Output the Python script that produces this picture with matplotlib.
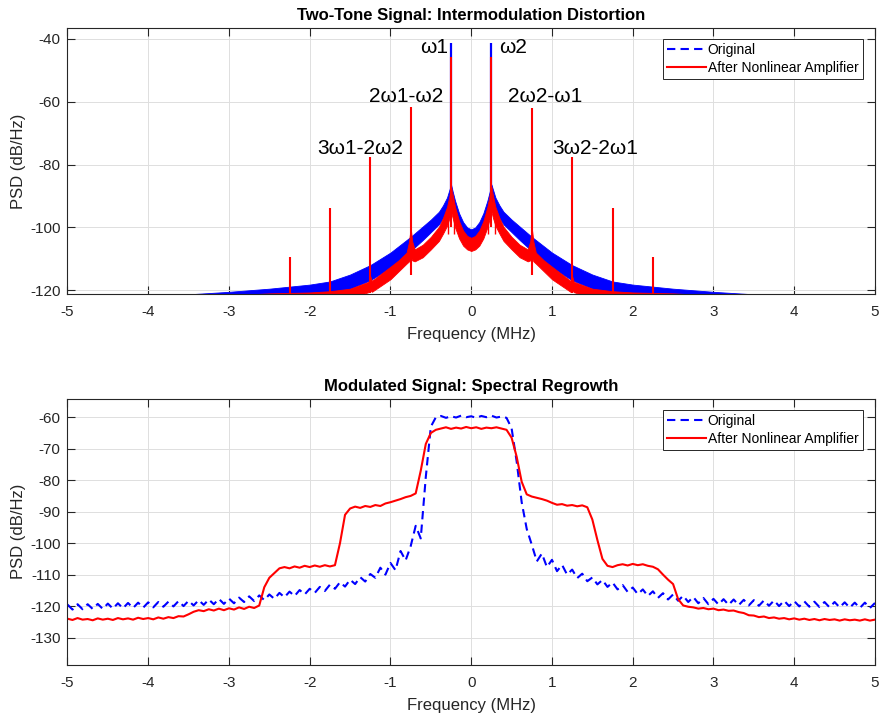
import numpy as np
import matplotlib
matplotlib.use('Agg')
import matplotlib.pyplot as plt
from matplotlib.lines import Line2D

plt.rcParams['font.family'] = ['Liberation Sans', 'DejaVu Sans']
plt.rcParams['axes.unicode_minus'] = False

# ---------------- Two-tone test (values read for f >= 0, spectrum is symmetric) ----------------
blue_band_f = [0, 0.05, 0.1, 0.15, 0.2, 0.23, 0.25, 0.27, 0.3, 0.35, 0.4, 0.5, 0.6, 0.75,
               1.0, 1.25, 1.5, 1.75, 2.0, 2.5, 3.0, 3.5, 5.0]
blue_band_hi = [-100.6, -100.0, -98.3, -95.5, -91.5, -88.5, -86.3, -88.0, -90.5, -93.0, -95.0, -97.5,
                -99.7, -103.0, -108.0, -112.0, -115.0, -117.2, -118.2, -119.5, -120.5, -121.3, -123.5]
blue_band_lo = [-104.3, -103.8, -102.5, -100.0, -96.5, -94.0, -92.5, -93.0, -94.5, -97.0, -99.0, -101.5,
                -104.0, -107.5, -112.8, -116.8, -119.5, -121.5, -122.5, -124.0, -125.0, -126.0, -128.0]

red_band_f = [0, 0.05, 0.1, 0.15, 0.2, 0.23, 0.25, 0.27, 0.3, 0.35, 0.4, 0.5, 0.6, 0.7, 0.73, 0.75,
              0.77, 0.8, 0.9, 1.0, 1.23, 1.25, 1.27, 1.5, 1.75, 2.0, 2.5, 2.75, 3.0, 5.0]
red_band_hi = [-103.3, -102.7, -101.0, -98.0, -93.5, -89.5, -87.0, -90.0, -93.5, -97.0, -99.8, -103.0,
               -105.5, -107.0, -104.5, -100.0, -104.5, -108.0, -110.5, -112.5, -117.0, -115.5, -117.3,
               -119.5, -120.3, -120.7, -121.0, -121.3, -122.5, -125.0]
red_band_lo = [-107.5, -107.0, -105.8, -103.5, -100.0, -97.0, -95.0, -97.0, -99.5, -102.0, -104.3, -107.0,
               -109.5, -110.8, -110.5, -109.5, -110.8, -111.5, -114.0, -116.5, -120.5, -120.0, -120.6,
               -122.5, -124.0, -125.0, -126.0, -126.5, -127.0, -129.0]

# discrete tones and intermodulation products
tone_f = [-0.25, 0.25]
tone_top = [-41.4, -41.4]
imd_f = [-2.25, -1.75, -1.25, -0.75, -0.25, 0.25, 0.75, 1.25, 1.75, 2.25]
imd_top = [-109.4, -93.9, -77.7, -61.7, -45.7, -45.7, -61.9, -77.7, -93.9, -109.4]
imd_bottom = [-122, -122, -121, -115, -100, -100, -115, -121, -122, -122]
spur_f = [-0.29, -0.21, 0.21, 0.29]

labels_txt = ['ω1', 'ω2', '2ω1-ω2', '2ω2-ω1', '3ω1-2ω2', '3ω2-2ω1']
labels_f = [-0.46, 0.52, -0.80, 0.92, -1.37, 1.53]
labels_db = [-44.6, -44.6, -60.1, -60.1, -76.6, -76.6]

# ---------------- Modulated signal, sampled every 0.0625 MHz from -5 to 5 ----------------
mod_f = np.linspace(-5, 5, 161)
psd_orig = [
    -119.5, -121.1, -119.4, -121.0, -119.4, -120.9, -119.3, -120.9, -119.2, -120.8,
    -119.1, -120.7, -119.0, -120.6, -118.9, -120.5, -118.8, -120.4, -118.7, -120.2,
    -118.6, -120.1, -118.4, -120.0, -118.3, -119.8, -118.1, -119.6, -117.9, -119.4,
    -117.7, -119.3, -117.6, -119.1, -117.3, -118.7, -116.9, -118.4, -116.6, -118.1,
    -116.3, -117.7, -115.8, -117.2, -115.4, -116.8, -114.9, -116.3, -114.5, -115.8,
    -113.9, -115.2, -113.2, -114.5, -112.4, -113.8, -111.6, -113.0, -110.8, -112.2,
    -109.8, -111.0, -107.8, -110.0, -106.3, -108.6, -102.5, -105.5, -101.0, -94.5,
    -98.5, -79.0, -63.0,
    -60.0, -59.6, -60.2, -59.7, -60.1, -59.5, -60.0, -59.7, -60.2, -59.6,
    -60.0, -59.5, -60.1, -59.8, -60.2,
    -63.5, -74.0, -87.0, -95.5,
    -100.5, -105.8, -103.3, -107.6, -105.3, -108.9, -106.9, -110.0,
    -108.4, -111.1, -109.7, -112.1, -110.9, -113.1, -111.7, -113.9, -112.5, -114.7,
    -113.3, -115.5, -114.1, -116.2, -114.7, -116.8, -115.3, -117.4, -115.9, -117.9,
    -116.3, -118.3, -116.7, -118.7, -117.1, -119.1, -117.4, -119.4, -117.7, -119.5,
    -117.8, -119.6, -117.9, -119.7, -118.0, -119.8, -118.1, -119.9, -118.2, -119.9,
    -118.2, -120.0, -118.3, -120.0, -118.4, -120.1, -118.5, -120.2, -118.6, -120.3,
    -118.7, -120.4, -118.7, -120.4, -118.8, -120.5, -118.9, -120.6, -118.9, -120.6, -119.0,
]
psd_amp = [
    -124.0, -124.4, -123.8, -124.3, -124.1, -124.5, -123.9, -124.3, -124.0, -124.4,
    -123.8, -124.2, -123.9, -124.3, -123.7, -124.1, -123.8, -124.2, -123.6, -124.0,
    -123.5, -123.8, -123.2, -123.3, -122.6, -121.8, -121.3, -121.6, -121.0, -121.4,
    -120.8, -121.3, -120.7, -121.1, -120.4, -120.9, -120.2, -120.6, -119.8, -114.0,
    -111.0, -109.5, -108.0, -107.6, -108.0, -107.4, -107.8, -107.2, -107.6, -107.1,
    -107.5, -107.0, -107.4, -107.0, -100.0, -91.0, -89.0, -88.4, -88.8, -88.2,
    -88.5, -87.9, -88.2, -87.4, -87.0, -86.5, -86.0, -85.4, -85.0, -84.2,
    -77.0, -68.5, -65.0, -64.0, -63.6, -63.2, -63.7, -63.3, -63.6, -63.1,
    -63.5, -63.2, -63.7, -63.3, -63.5, -63.2, -63.6, -64.0, -66.5, -72.5,
    -80.5, -84.5, -85.2, -85.6, -86.0, -86.5, -87.2, -87.8, -87.6, -88.1,
    -87.9, -88.3, -88.0, -88.6, -92.5, -99.0, -105.0, -107.2, -107.6, -107.0,
    -106.7, -107.1, -106.6, -107.0, -106.7, -107.2, -107.5, -108.3, -110.0, -111.6,
    -113.0, -117.8, -119.8, -120.2, -120.4, -120.8, -120.6, -121.0, -120.8, -121.3,
    -121.1, -121.5, -121.4, -121.9, -122.2, -122.9, -123.0, -123.5, -123.3, -123.8,
    -123.6, -124.0, -123.8, -124.2, -123.9, -124.3, -124.0, -124.4, -124.1, -124.5,
    -124.1, -124.4, -124.2, -124.6, -124.2, -124.5, -124.3, -124.6, -124.2, -124.6, -124.3,
]

GRAY = '#262626'


def mirror(f, v):
    # build the full spectrum from the f >= 0 half
    f = np.asarray(f)
    v = np.asarray(v)
    return np.concatenate([-f[:0:-1], f]), np.concatenate([v[:0:-1], v])


def style_axes(ax, title, ylim, yticks):
    ax.set_xlim(-5, 5)
    ax.set_ylim(ylim)
    ax.set_xticks(range(-5, 6))
    ax.set_yticks(yticks)
    ax.grid(True, color='#dedede', linewidth=0.7)
    ax.set_axisbelow(True)
    ax.tick_params(direction='in', length=5.8, width=0.8, top=True, right=True,
                   labelsize=11, colors=GRAY)
    ax.tick_params(axis='x', pad=8)
    ax.tick_params(axis='y', pad=5)
    for s in ax.spines.values():
        s.set_color(GRAY)
        s.set_linewidth(0.8)
    ax.set_title(title, fontsize=12, fontweight='bold', pad=6)
    ax.set_xlabel('Frequency (MHz)', fontsize=12, color=GRAY, labelpad=6)
    ax.set_ylabel('PSD (dB/Hz)', fontsize=12, color=GRAY, labelpad=3)
    handles = [Line2D([], [], color='blue', ls=(0, (4, 2.5)), lw=1.5),
               Line2D([], [], color='red', lw=1.5)]
    leg = ax.legend(handles, ['Original', 'After Nonlinear Amplifier'], loc='upper right',
                    bbox_to_anchor=(0.9848, 0.9586), borderaxespad=0, fontsize=10,
                    fancybox=False, framealpha=1, handlelength=2.75, handletextpad=0.15,
                    labelspacing=0.3, borderpad=0.3)
    leg.get_frame().set_edgecolor(GRAY)
    leg.get_frame().set_linewidth(0.7)


fig = plt.figure(figsize=(8.83, 7.16), dpi=100)
ax1 = fig.add_axes([0.0764, 0.5898, 0.9145, 0.3711])
ax2 = fig.add_axes([0.0764, 0.0717, 0.9145, 0.3711])

# top: two-tone intermodulation
bf, bhi = mirror(blue_band_f, blue_band_hi)
_, blo = mirror(blue_band_f, blue_band_lo)
rf, rhi = mirror(red_band_f, red_band_hi)
_, rlo = mirror(red_band_f, red_band_lo)
ax1.fill_between(bf, blo, bhi, color='blue', lw=0.6)
ax1.vlines(tone_f, -92, tone_top, color='blue', lw=1.6)
ax1.fill_between(rf, rlo, rhi, color='red', lw=0.6)
ax1.vlines(imd_f, imd_bottom, imd_top, color='red', lw=1.5)
ax1.vlines(spur_f, -102, -94, color='red', lw=1.0)
for t, x, y in zip(labels_txt, labels_f, labels_db):
    ax1.text(x, y, t, fontsize=15, ha='center', va='baseline', color='black')
style_axes(ax1, 'Two-Tone Signal: Intermodulation Distortion', (-121.1, -36.5),
           [-120, -100, -80, -60, -40])

# bottom: spectral regrowth
ax2.plot(mod_f, psd_orig, color='blue', ls=(0, (4, 2.5)), lw=1.5)
ax2.plot(mod_f, psd_amp, color='red', lw=1.5)
style_axes(ax2, 'Modulated Signal: Spectral Regrowth', (-138.6, -54.2),
           list(range(-130, -59, 10)))

fig.savefig('out.png', dpi=100)
